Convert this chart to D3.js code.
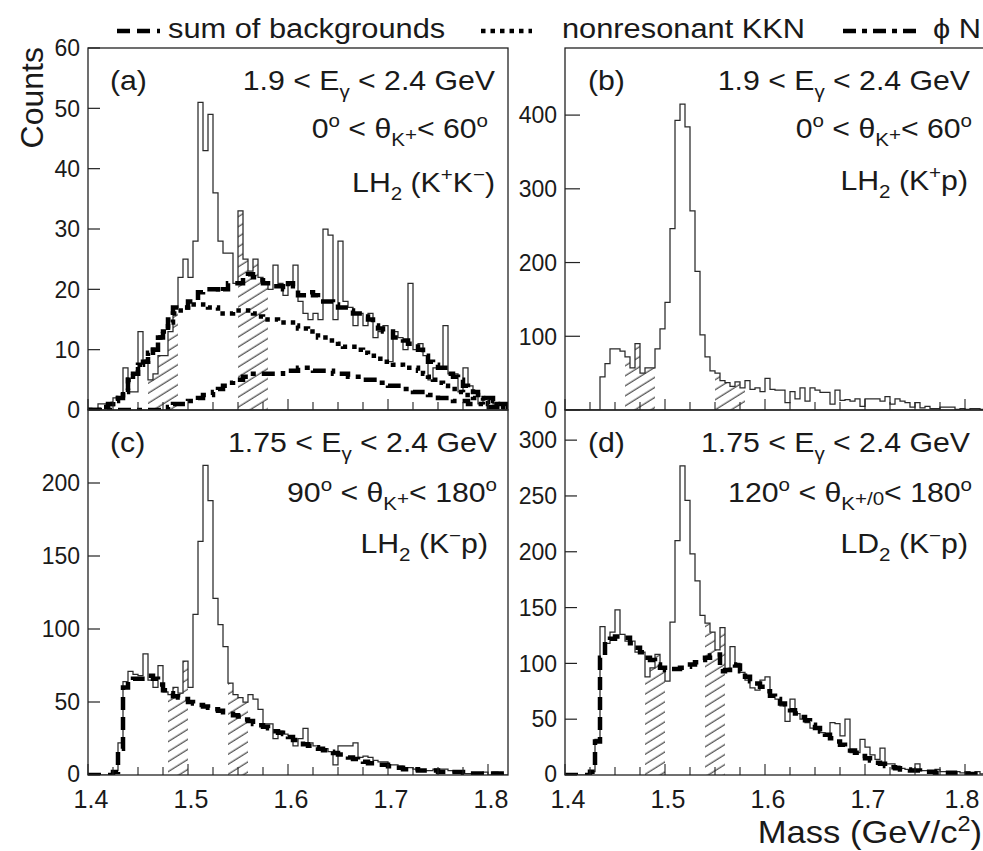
<!DOCTYPE html>
<html><head><meta charset="utf-8">
<script src="https://cdn.jsdelivr.net/npm/d3@7"></script>
<style>
body{margin:0;background:#fff}
svg{display:block}
text{font-family:"Liberation Sans",Arial,Helvetica,sans-serif;fill:#1a1a1a}
</style>
</head><body>
<svg id="chart" width="983" height="851"></svg>
<script>
// ---------------- data ----------------
const binStart = 1.4;      // GeV, lower edge of first bin
const binWidth = 0.005;    // GeV
const massDomain = [1.4, 1.82];
const xTickLabels = [1.4, 1.5, 1.6, 1.7, 1.8];
const yTicksA = [0, 10, 20, 30, 40, 50, 60];
const yTicksB = [0, 100, 200, 300, 400];
const yTicksC = [0, 50, 100, 150, 200];
const yTicksD = [0, 50, 100, 150, 200, 250, 300];
const sidebandsAB = [[1.46, 1.49], [1.55, 1.58]];
const sidebandsCD = [[1.48, 1.50], [1.54, 1.56]];
const legendLabels = ["sum of backgrounds", "nonresonant KKN", "\u03d5 N"];

// (a) LH2 (K+K-)
const histA = [0,0,1,1,1,2,2,7,3,3,13,8,5,6,9,9,13,17,22,25,22,28,51,43,49,36,28,26,26,21,33,25,23,25,22,21,20,24,21,19,21,24,18,16,15,16,15,30,29,15,28,18,17,14,16,14,16,12,13,14,8,13,12,10,21,10,11,9,5,7,7,14,6,6,3,7,4,3,1,2,2,1,1,0];
const sumA  = [0,0,0,0.5,1,1.5,2,3,5,6,7.5,8,9.5,10,12,13,15,17,17,17,18,18,19.5,20,20,20,19.5,20,21,21,21,22,22.5,22,21.5,21,20.5,20.5,20.5,20,21,20.5,19,19,19.5,19,18,18,18,17.5,17,17,16.5,16,16,15.5,15,14,13.5,13,13,12,12,11.5,11,11,10,9,8,7.5,7,7,6,5.5,5,4,3.5,3,2.5,2,2,1.5,1,1];
const kknA  = [0,0,0,0.5,1,1.5,2,3,5,6,7.5,8,9.5,10,12,13,14.5,16,16.5,17,17.5,17.5,17.5,17.5,17,17,16,16,16,16.5,16.5,16.5,16.5,16,15.5,15,15,15,14.5,14.5,14.5,14,13.5,13.5,13,13,12,12,11.5,11.5,11,10.5,10.5,10.5,10,9.5,9,9,8.5,8,8,7.5,7.5,7,7,7,6.5,6,5.5,5,4.5,4,3.5,3.5,3,2.5,2.5,2,2,1.5,1,1,0.5,0.5];
const phiA  = [0,0,0,0,0,0,0,0,0,0,0,0,0,0,0,0,0.5,1,1,1,1.5,1.5,2,2.5,2.5,3,3.5,4,4.5,5,5,5.5,5.5,6,6,6,6,6,6,6.5,6.5,6.5,7,7,7,6.5,6.5,6.5,6.5,6,6,6,5.5,5.5,5.5,5,5,5,4.5,4.5,4,4,4,3.5,3.5,3,3,3,2.5,2.5,2,2,2,1.5,1.5,1.5,1,1,1,0.5,0.5,0.5,0.5,0.5];

// (b) LH2 (K+p)
const histB = [0,0,0,0,0,0,0,45,63,83,83,80,72,57,90,50,57,57,83,110,146,246,393,415,384,270,188,102,72,53,50,40,37,32,38,30,40,28,30,25,43,28,27,27,10,25,15,30,12,30,27,24,24,8,27,13,14,12,15,5,15,15,15,12,18,8,15,12,10,4,10,3,5,2,2,4,4,4,1,2,1,2,2,1];

// (c) LH2 (K-p)
const histC = [0,0,0,0,0,3,22,64,71,69,68,83,65,60,75,57,55,60,56,78,60,110,160,212,188,121,103,88,63,55,53,50,55,52,45,35,35,25,30,28,27,20,25,32,22,20,18,18,16,7,20,20,20,22,12,13,12,10,9,9,7,7,6,5,5,4,3,3,3,4,4,4,3,2,2,1,1,1,1,2,0,2,1,0];
const sumC  = [0,0,0,0,0,2,18,60,65,66,66,66,68,66,62,58,56,54,53,52,50,49,48,47,46,45,44,43,42,41,40,38,37,35,34,33,32,30,29,28,26,24,23,21,20,19,18,17,16,15,14,13,12,11,10,9,8,8,7,7,6,5,5,4,4,4,3,3,3,3,2,2,2,2,2,1,1,1,1,1,1,1,1,1];

// (d) LD2 (K-p)
const histD = [0,0,0,0,0,3,32,133,118,128,148,126,120,120,110,110,88,96,108,96,84,137,210,277,246,198,174,143,136,128,112,132,95,115,100,92,85,78,76,85,88,72,68,62,48,68,55,50,47,42,42,38,35,47,46,35,50,20,20,32,25,18,14,24,10,10,8,6,5,5,10,4,4,3,5,3,3,2,3,2,3,2,3,1];
const sumD  = [0,0,0,0,0,3,30,105,120,122,124,124,123,118,114,110,105,103,99,96,94,95,95,96,97,99,101,103,105,107,108,93,94,99,98,93,88,84,82,79,75,71,68,64,60,58,55,52,49,45,42,39,36,33,30,27,25,22,20,17,15,13,11,10,8,7,6,5,5,4,4,3,3,3,2,2,2,2,1,1,1,1,1,1];

// ---------------- styles ----------------
const curveStyles = {
  sum: {dash: "13,7", width: 4.5},
  kkn: {dash: "4.5,5", width: 4.5},
  phi: {dash: "13,6,5,6", width: 4.5}
};

const sub = (t, lvl) => ({t, lvl: lvl === undefined ? "sub" : lvl});
const sup = t => ({t, lvl: "sup"});
const txt = t => ({t, lvl: "base"});

const panels = [
  {key: "a", left: 88, right: 508, top: 48, bottom: 410, ymax: 60, yTicks: yTicksA, yTickLen: 12,
   hist: histA, curves: [[sumA, "sum"], [kknA, "kkn"], [phiA, "phi"]], bands: sidebandsAB, xLabels: false,
   tag: "(a)", tagX: 110, textRight: [495, 488, 495], baselines: [90, 138, 192],
   lines: [
     [txt("1.9 < E"), sub("\u03b3"), txt(" < 2.4 GeV")],
     [txt("0"), sup("o"), txt(" < \u03b8"), sub("K"), sub("+", "subsup"), txt("< 60"), sup("o")],
     [txt("LH"), sub("2"), txt(" (K"), sup("+"), txt("K"), sup("\u2212"), txt(")")]
   ]},
  {key: "b", left: 565, right: 985, top: 48, bottom: 410, ymax: 491, yTicks: yTicksB, yTickLen: 15,
   hist: histB, curves: [], bands: sidebandsAB, xLabels: false,
   tag: "(b)", tagX: 588, textRight: [970, 972, 968], baselines: [90, 138, 190],
   lines: [
     [txt("1.9 < E"), sub("\u03b3"), txt(" < 2.4 GeV")],
     [txt("0"), sup("o"), txt(" < \u03b8"), sub("K"), sub("+", "subsup"), txt("< 60"), sup("o")],
     [txt("LH"), sub("2"), txt(" (K"), sup("+"), txt("p)")]
   ]},
  {key: "c", left: 88, right: 508, top: 410, bottom: 775, ymax: 250, yTicks: yTicksC, yTickLen: 12,
   hist: histC, curves: [[sumC, "sum"]], bands: sidebandsCD, xLabels: true,
   tag: "(c)", tagX: 110, textRight: [497, 497, 488], baselines: [452, 502, 553],
   lines: [
     [txt("1.75 < E"), sub("\u03b3"), txt(" < 2.4 GeV")],
     [txt("90"), sup("o"), txt(" < \u03b8"), sub("K"), sub("+", "subsup"), txt("< 180"), sup("o")],
     [txt("LH"), sub("2"), txt(" (K"), sup("\u2212"), txt("p)")]
   ]},
  {key: "d", left: 565, right: 985, top: 410, bottom: 775, ymax: 327, yTicks: yTicksD, yTickLen: 12,
   hist: histD, curves: [[sumD, "sum"]], bands: sidebandsCD, xLabels: true,
   tag: "(d)", tagX: 588, textRight: [970, 972, 968], baselines: [452, 502, 553],
   lines: [
     [txt("1.75 < E"), sub("\u03b3"), txt(" < 2.4 GeV")],
     [txt("120"), sup("o"), txt(" < \u03b8"), sub("K"), sub("+/0", "subsup"), txt("< 180"), sup("o")],
     [txt("LD"), sub("2"), txt(" (K"), sup("\u2212"), txt("p)")]
   ]}
];

// ---------------- drawing ----------------
const svg = d3.select("#chart");
const defs = svg.append("defs");
defs.append("pattern")
  .attr("id", "hatch").attr("patternUnits", "userSpaceOnUse")
  .attr("width", 10).attr("height", 8.5)
  .attr("patternTransform", "rotate(-32)")
  .append("line").attr("x1", 0).attr("x2", 10).attr("y1", 4).attr("y2", 4)
  .attr("stroke", "#333").attr("stroke-width", 1.1);

const FS = 28;
function rich(g, x, y, segs, anchor, size, sx) {
  const t = g.append("text").attr("x", 0).attr("y", 0)
    .attr("transform", `translate(${x},${y}) scale(${sx || 1},1)`)
    .attr("text-anchor", anchor).style("font-size", size + "px");
  let shift = 0;
  segs.forEach(s => {
    let target = 0, small = false;
    if (s.lvl === "sub") { target = size * 0.3; small = true; }
    else if (s.lvl === "subsup") { target = size * 0.12; small = true; }
    else if (s.lvl === "sup") { target = -size * 0.38; small = true; }
    const sp = t.append("tspan").attr("dy", target - shift).text(s.t);
    if (small) sp.style("font-size", (size * 0.68) + "px");
    shift = target;
  });
  return t;
}

panels.forEach(p => {
  const x = d3.scaleLinear().domain(massDomain).range([p.left, p.right]);
  const y = d3.scaleLinear().domain([0, p.ymax]).range([p.bottom, p.top]);
  const g = svg.append("g");
  const clipId = "clip" + p.key;
  defs.append("clipPath").attr("id", clipId).append("rect")
    .attr("x", p.left).attr("y", p.top).attr("width", p.right - p.left).attr("height", p.bottom - p.top);

  const edges = p.hist.map((v, i) => binStart + i * binWidth);
  const pts = vals => vals.map((v, i) => [edges[i], v]).concat([[binStart + vals.length * binWidth, vals[vals.length - 1]]]);

  // hatched sidebands (area under histogram restricted to band)
  p.bands.forEach((b, bi) => {
    const bid = "band" + p.key + bi;
    defs.append("clipPath").attr("id", bid).append("rect")
      .attr("x", x(b[0])).attr("y", p.top).attr("width", x(b[1]) - x(b[0])).attr("height", p.bottom - p.top);
    g.append("path")
      .attr("d", d3.area().x(d => x(d[0])).y0(y(0)).y1(d => y(d[1])).curve(d3.curveStepAfter)(pts(p.hist)))
      .attr("fill", "url(#hatch)").attr("clip-path", `url(#${bid})`);
  });

  const line = d3.line().x(d => x(d[0])).y(d => y(d[1])).curve(d3.curveStepAfter);
  // histogram
  g.append("path").attr("d", line(pts(p.hist)))
    .attr("fill", "none").attr("stroke", "#2a2a2a").attr("stroke-width", 1.25)
    .attr("clip-path", `url(#${clipId})`);
  // background curves
  p.curves.forEach(([vals, kind]) => {
    const st = curveStyles[kind];
    g.append("path").attr("d", line(pts(vals)))
      .attr("fill", "none").attr("stroke", "#000").attr("stroke-width", st.width)
      .attr("stroke-dasharray", st.dash).attr("clip-path", `url(#${clipId})`);
  });

  // frame
  g.append("rect").attr("x", p.left).attr("y", p.top)
    .attr("width", p.right - p.left).attr("height", p.bottom - p.top)
    .attr("fill", "none").attr("stroke", "#222").attr("stroke-width", 1.3);

  // x ticks (inward)
  const minor = d3.range(0, 17).map(k => 1.4 + k * 0.025).filter(v => v < massDomain[1]);
  minor.forEach(v => {
    const major = Math.abs((v * 10) - Math.round(v * 10)) < 1e-6;
    g.append("line").attr("x1", x(v)).attr("x2", x(v))
      .attr("y1", p.bottom).attr("y2", p.bottom - (major ? 11 : 8))
      .attr("stroke", "#222").attr("stroke-width", 1.1);
  });
  if (p.xLabels) {
    xTickLabels.forEach(v => {
      g.append("text").attr("x", Math.min(x(v) + 3, 962)).attr("y", 808).attr("text-anchor", "middle")
        .style("font-size", "25px").text(d3.format(".1f")(v));
    });
  }
  // y ticks
  p.yTicks.forEach(v => {
    g.append("line").attr("x1", p.left).attr("x2", p.left + p.yTickLen)
      .attr("y1", y(v)).attr("y2", y(v)).attr("stroke", "#222").attr("stroke-width", 1.2);
    g.append("text").attr("x", p.left - 8).attr("y", y(v)).attr("dy", v === 0 && p.xLabels ? "0.3em" : "0.36em")
      .attr("text-anchor", "end").style("font-size", "23px").text(v);
  });

  // annotations
  rich(g, p.tagX, p.baselines[0], [txt(p.tag)], "start", FS, 1.08);
  p.lines.forEach((segs, i) => rich(g, p.textRight[i], p.baselines[i], segs, "end", FS, 1.08));
});

// axis titles
svg.append("text").attr("transform", "translate(43,47) rotate(-90)")
  .attr("text-anchor", "end").style("font-size", "32px").text("Counts");
rich(svg, 982, 843, [txt("Mass (GeV/c"), sup("2"), txt(")")], "end", 32, 1.08);

// legend
const legY = 31, legBase = 38;
const legend = [
  {kind: "sum", x0: 117, x1: 160, tx: 168},
  {kind: "kkn", x0: 481, x1: 532, tx: 562},
  {kind: "phi", x0: 843, x1: 922, tx: 933}
];
legend.forEach((l, i) => {
  const st = curveStyles[l.kind];
  svg.append("line").attr("x1", l.x0).attr("x2", l.x1).attr("y1", legY).attr("y2", legY)
    .attr("stroke", "#000").attr("stroke-width", st.width).attr("stroke-dasharray", st.dash);
  rich(svg, l.tx, legBase, [txt(legendLabels[i])], "start", 28, 1.1);
});
</script>
</body></html>
